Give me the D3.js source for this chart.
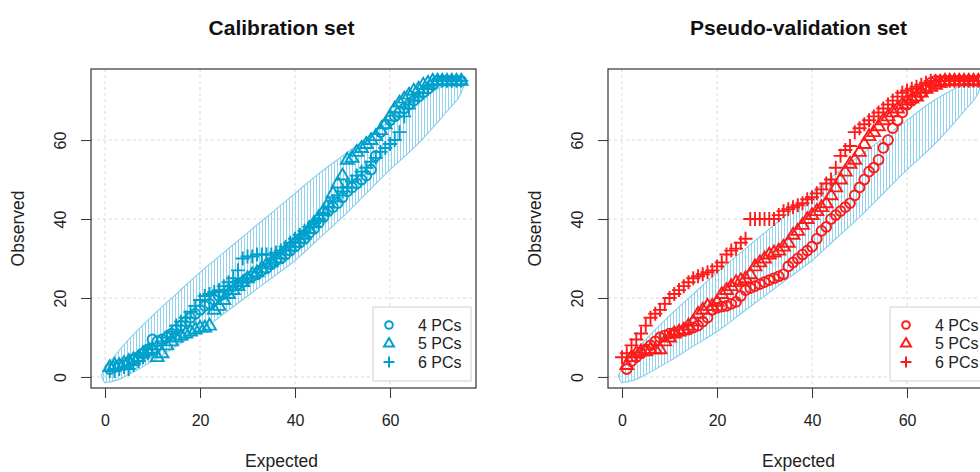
<!DOCTYPE html>
<html><head><meta charset="utf-8">
<script src="https://cdn.jsdelivr.net/npm/d3@7"></script>
<style>
html,body{margin:0;padding:0;background:#fff;}
svg{display:block;font-family:"Liberation Sans",Arial,Helvetica,sans-serif;}
</style></head>
<body>
<svg id="chart" width="980" height="472"></svg>
<script>
// ---------- data ----------
const panelTitles = ["Calibration set", "Pseudo-validation set"];
const seriesNames = ["4 PCs", "5 PCs", "6 PCs"];
const xTicks = [0, 20, 40, 60];
const yTicks = [0, 20, 40, 60];

// shared band (hatched envelope)
const bandX     = [-0.8, 0, 2.5, 5, 10, 15, 20, 25, 30, 35, 40, 45, 50, 55, 60, 65, 70, 72.5, 75, 75.8];
const bandUpper = [0.3, 2, 6, 9.5, 15.5, 21, 26.5, 31.5, 36.5, 41.5, 46.5, 51.5, 56, 60.5, 65, 69.5, 73, 74.5, 75.4, 74.6];
const bandLower = [0.3, -1.4, -0.8, 0.6, 4, 7.8, 11.5, 16, 20.5, 25, 29.5, 35, 40.5, 46.5, 52.5, 58, 64.5, 68, 72, 74.6];

// Calibration set
const calX = [1,2,3,4,5,6,7,8,9,10,11,12,13,14,15,16,17,18,19,20,21,22,23,24,25,26,27,28,29,30,31,32,33,34,35,36,37,38,39,40,41,42,43,44,45,46,47,48,49,50,51,52,53,54,55,56,57,58,59,60,61,62,63,64,65,66,67,68,69,70,71,72,73,74,75];
const cal4 = [2,2.5,3,3,3.5,4.5,5,6,7,9.5,9,9.5,10,11,12,13,14,15,16,17,18,18.5,19.5,20.5,21,22,23,23.5,24,25,25.5,26,27,27.5,28.5,29.5,30,31,32,33,34,35,36.5,37.5,39,40.5,42,43,44,45.5,47,48,49,50,51,52.5,56,62,64,65,66,67,68,69,70,71,72,73,74,75,75,75,75,75,75];
const cal5 = [2.5,3,3,3.5,4,4.5,5,6,6.5,7,5,6,8,9,10,10.5,11,11.5,12,12.5,12.5,13,17,18,19.5,21,22,23,24,25,26,26.5,27.5,28.5,29,30,31,32,33,34,35,36,37.5,39,40.5,42,44,46.5,49,51,55,55.5,57,58,59,60,61,62.5,64,66,68,69.5,70.5,71.5,72.5,73,74,74.5,75,75,75,75,75,75,75];
const cal6 = [1.5,1.5,2,2.5,2,3,4,5,6,7,8,9,10,11.5,13,14,15,16.5,18,19.5,20.5,21,21.5,22,23,24,25,27,30,30.5,30.5,31,31,31,31,31.5,32,33,34,35,36,37,38,39,40,41.5,43,44.5,46,47,48,49.5,51,52,53,54.5,55.5,57,58,59,60,62,66,68,70,71,72,73,74,75,75,75,75,75,75];

// Pseudo-validation set
const valX = [1,2,3,4,5,6,7,8,9,10,11,12,13,14,15,16,17,18,19,20,21,22,23,24,25,26,27,28,29,30,31,32,33,34,35,36,37,38,39,40,41,42,43,44,45,46,47,48,49,50,51,52,53,54,55,56,57,58,59,60,61,62,63,64,65,66,67,68,69,70,71,72,73,74,75];
const val4 = [2,4,5,6,7,8,9,10,10.5,11,11.2,11.5,11.8,12,12.5,13,14,15,17,17.5,17.8,18,18.5,19,20.5,22,22.5,23,23.5,24,24.5,25,25.5,26,28,29,30,31,32,33,35,37,38,40,41,42,43,44,46,48,50,52,53,55,58,60,63,65,67,69,70,71,72,73,74.5,75,75,75,75,75,75,75,75,75,75];
const val5 = [3,5,6,6.5,6.5,7,7,7,9,10,11,11.5,12,13,14,16,17,18,18,19,21,22,23,24,24.5,25,26,28,29,30,31,31.5,32,33,34,36,37,38.5,40,41,42,43,44,46,48,50,52,54,55,57,59,61,62,63.5,65,66,67,68,69,70,70.5,71,72,73,73.5,74,74.5,75,75,75,75,75,75,75,75];
const val6X = [0,1,2,3,4,5,6,7,8,9,10,11,12,13,14,15,16,17,18,19,20,21,22,23,24,25,26,27,28,29,30,31,32,33,34,35,36,37,38,39,40,41,42,43,44,45,46,47,48,49,50,51,52,53,54,55,56,57,58,59,60,61,62,63,64,65,66,67,68,69,70,71,72,73,74,75,76];
const val6 = [5,6,8,9.5,11,13,15,16,17,18.5,20,21,22,23,24,25,25.5,26,26.5,27,28,29,31,32,32.5,34,35,40,40,40,40,40,40,41,42,42.5,43,43.5,44,45,45.5,46.5,47.5,49,50,53,56,57.5,58.5,62,63,64,65,66,67,68,69,70,71,72,72.5,73,73.5,74,74.5,75,75,75,75,75,75,75,75,75,75,75,75];

const panels = [
  {title: panelTitles[0], color: "#00A0CC", series: [
    {name: seriesNames[0], shape: "circle",   xs: calX, ys: cal4},
    {name: seriesNames[1], shape: "triangle", xs: calX, ys: cal5},
    {name: seriesNames[2], shape: "plus",     xs: calX, ys: cal6}]},
  {title: panelTitles[1], color: "#FF1A1A", series: [
    {name: seriesNames[0], shape: "circle",   xs: valX,  ys: val4},
    {name: seriesNames[1], shape: "triangle", xs: valX,  ys: val5},
    {name: seriesNames[2], shape: "plus",     xs: val6X, ys: val6}]}
];

// ---------- layout ----------
const svg = d3.select("#chart");
const boxW = 385, boxTop = 69, boxBottom = 388;
const panelLeft = [91, 608];
const bandColor = "#87CEEB";

const defs = svg.append("defs");
const pat = defs.append("pattern").attr("id", "hatch").attr("patternUnits", "userSpaceOnUse")
  .attr("width", 3).attr("height", 8);
pat.append("line").attr("x1", 1.5).attr("x2", 1.5).attr("y1", 0).attr("y2", 8)
  .attr("stroke", bandColor).attr("stroke-width", 0.9);

function symbolPath(shape, s) {
  if (shape === "circle") { const r = 4.9 * s; return `M${r},0A${r},${r} 0 1,1 ${-r},0A${r},${r} 0 1,1 ${r},0Z`; }
  if (shape === "triangle") { const h = 6.4 * s; return `M0,${-1.08*h}L${h},${0.62*h}L${-h},${0.62*h}Z`; }
  const a = 7 * s;
  return `M${-a},0L${a},0M0,${-a}L0,${a}`;
}

panels.forEach((p, i) => {
  const left = panelLeft[i];
  const x = d3.scaleLinear().domain([-2.95, 78.1]).range([left, left + boxW]);
  const y = d3.scaleLinear().domain([-2.8, 78]).range([boxBottom, boxTop]);
  const g = svg.append("g");

  // grid
  g.selectAll(".gx").data(xTicks).join("line")
    .attr("x1", d => x(d)).attr("x2", d => x(d)).attr("y1", boxTop).attr("y2", boxBottom)
    .attr("stroke", "#d9d9d9").attr("stroke-dasharray", "3,3").attr("stroke-width", 1);
  g.selectAll(".gy").data(yTicks).join("line")
    .attr("y1", d => y(d)).attr("y2", d => y(d)).attr("x1", left).attr("x2", left + boxW)
    .attr("stroke", "#d9d9d9").attr("stroke-dasharray", "3,3").attr("stroke-width", 1);

  // band
  const band = bandX.map((bx, k) => ({x: bx, lo: bandLower[k], hi: bandUpper[k]}));
  const area = d3.area().x(d => x(d.x)).y0(d => y(d.lo)).y1(d => y(d.hi)).curve(d3.curveMonotoneX);
  g.append("path").attr("d", area(band)).attr("fill", "url(#hatch)")
    .attr("stroke", bandColor).attr("stroke-width", 1.1);

  // points
  p.series.forEach(s => {
    const pts = s.xs.map((xv, k) => [xv, s.ys[k]]);
    g.selectAll(null).data(pts).join("path")
      .attr("transform", d => `translate(${x(d[0])},${y(d[1])})`)
      .attr("d", symbolPath(s.shape, 1))
      .attr("fill", "none").attr("stroke", p.color).attr("stroke-width", 1.9);
  });

  // legend
  const lx = left + 282, ly = 307;
  g.append("rect").attr("x", lx).attr("y", ly).attr("width", 98).attr("height", 74)
    .attr("fill", "#fff").attr("stroke", "#d0d0d0").attr("stroke-width", 1);
  p.series.forEach((s, k) => {
    const ry = ly + 18 + k * 18.5;
    g.append("path").attr("transform", `translate(${lx + 16},${ry})`)
      .attr("d", symbolPath(s.shape, 0.78)).attr("fill", "none")
      .attr("stroke", p.color).attr("stroke-width", 2);
    g.append("text").attr("x", lx + 45).attr("y", ry).attr("dy", "0.36em")
      .attr("font-size", 16).attr("fill", "#222").text(s.name);
  });

  // box
  g.append("rect").attr("x", left).attr("y", boxTop).attr("width", boxW).attr("height", boxBottom - boxTop)
    .attr("fill", "none").attr("stroke", "#333").attr("stroke-width", 1.2);

  // axes
  const xa = g.append("g").attr("transform", `translate(0,${boxBottom})`)
    .call(d3.axisBottom(x).tickValues(xTicks).tickSize(10).tickPadding(17).tickSizeOuter(0));
  xa.select(".domain").remove();
  xa.selectAll("line").attr("stroke", "#333");
  xa.selectAll("text").attr("font-size", 16).attr("fill", "#222").attr("font-family", null);

  const ya = g.append("g").attr("transform", `translate(${left},0)`)
    .call(d3.axisLeft(y).tickValues(yTicks).tickSize(10).tickPadding(0).tickSizeOuter(0));
  ya.select(".domain").remove();
  ya.selectAll("line").attr("stroke", "#333");
  ya.selectAll("text").attr("font-size", 16).attr("fill", "#222").attr("font-family", null)
    .attr("text-anchor", "middle").attr("x", 0).attr("dy", 0)
    .attr("transform", "translate(-25,0) rotate(-90)");

  // titles
  const cx = left + boxW / 2 - 2;
  svg.append("text").attr("x", cx).attr("y", 35).attr("text-anchor", "middle")
    .attr("font-size", 21).attr("font-weight", "bold").attr("fill", "#111").text(p.title);
  svg.append("text").attr("x", cx).attr("y", 467).attr("text-anchor", "middle")
    .attr("font-size", 17.5).attr("fill", "#222").text("Expected");
  svg.append("text").attr("transform", `translate(${left - 67},${(boxTop + boxBottom) / 2}) rotate(-90)`)
    .attr("text-anchor", "middle").attr("font-size", 17.5).attr("fill", "#222").text("Observed");
});
</script>
</body></html>
